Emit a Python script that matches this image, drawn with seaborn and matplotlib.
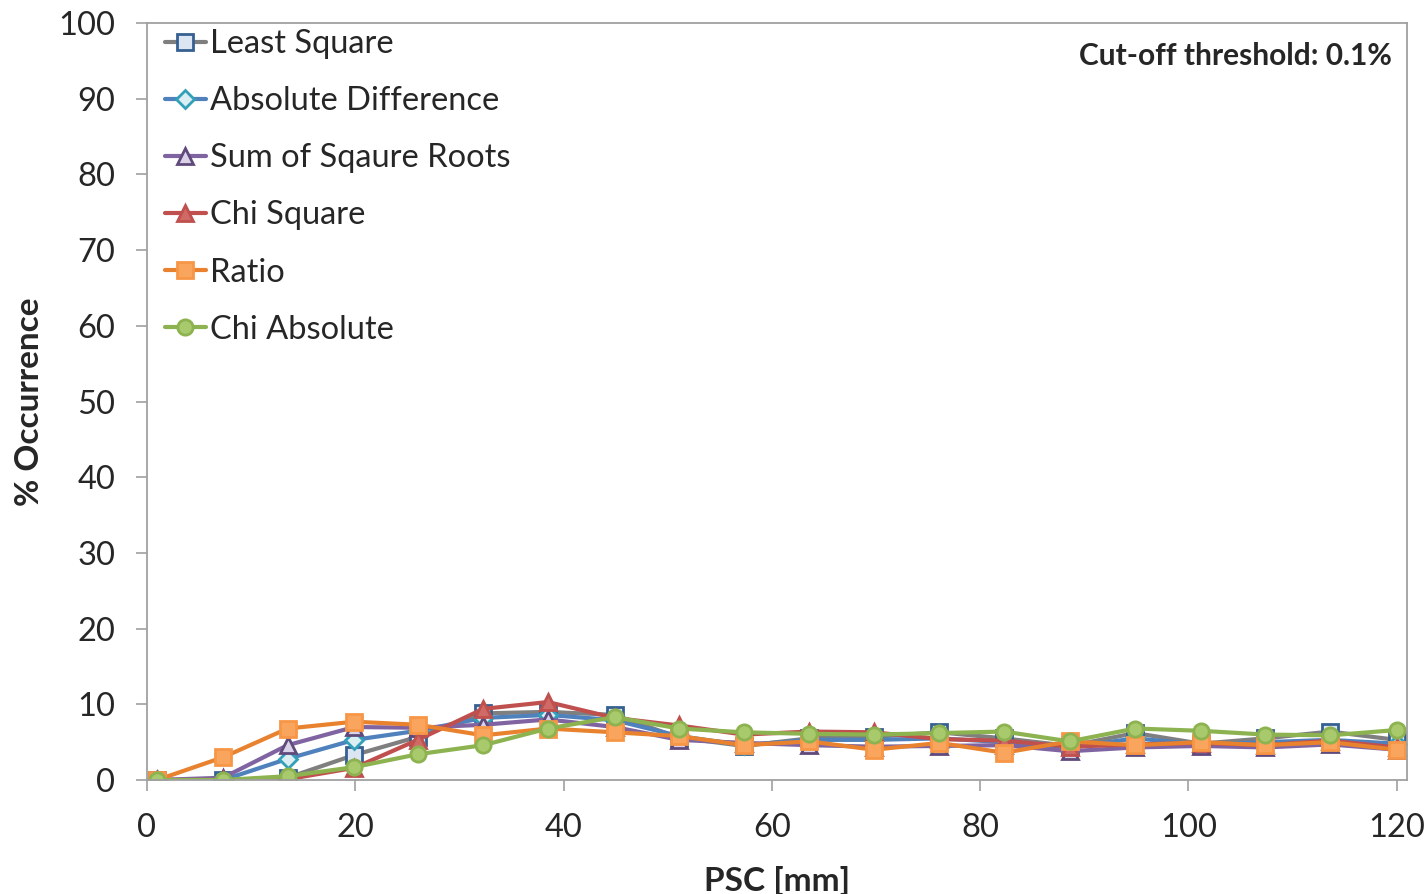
import matplotlib
matplotlib.use("Agg")
import matplotlib.pyplot as plt
import seaborn as sns
import pandas as pd

# ---- data ----
psc = [0.96, 7.3, 13.5, 19.9, 26.0, 32.3, 38.5, 44.9, 51.1, 57.3,
       63.6, 69.8, 76.1, 82.3, 88.6, 94.9, 101.2, 107.4, 113.6, 120.0]
least_square = [0, 0, 0.3, 3.3, 5.7, 8.8, 9.0, 8.6, 5.6, 4.5,
                5.5, 5.7, 6.3, 5.5, 4.5, 6.2, 4.8, 5.5, 6.4, 5.3]
abs_diff = [0, 0, 2.8, 5.3, 6.5, 8.2, 8.6, 7.9, 5.8, 4.6,
            5.3, 5.3, 5.5, 5.0, 4.3, 5.5, 4.7, 5.0, 5.3, 4.8]
sum_sqrt = [0, 0.3, 4.6, 7.0, 6.9, 7.3, 8.0, 7.0, 5.3, 4.9,
            4.6, 4.4, 4.5, 4.6, 3.8, 4.3, 4.5, 4.3, 4.7, 4.0]
chi_square = [0, 0, 0.1, 1.6, 5.3, 9.4, 10.3, 8.2, 7.2, 6.0,
              6.4, 6.3, 5.4, 5.2, 4.4, 4.7, 4.9, 4.6, 5.2, 4.3]
ratio = [0, 3.0, 6.8, 7.7, 7.3, 5.9, 6.8, 6.3, 5.8, 4.6,
         5.1, 4.0, 4.9, 3.6, 5.1, 4.6, 5.0, 4.6, 5.0, 4.0]
chi_abs = [0, 0, 0.5, 1.7, 3.4, 4.6, 6.8, 8.3, 6.8, 6.3,
           6.1, 6.0, 6.2, 6.4, 5.1, 6.8, 6.5, 6.0, 5.9, 6.6]

series_names = ["Least Square", "Absolute Difference", "Sum of Sqaure Roots",
                "Chi Square", "Ratio", "Chi Absolute"]
series_values = [least_square, abs_diff, sum_sqrt, chi_square, ratio, chi_abs]

x_ticks = [0, 20, 40, 60, 80, 100, 120]
y_ticks = [0, 10, 20, 30, 40, 50, 60, 70, 80, 90, 100]

# ---- styles ----
styles = {
    "Least Square": dict(color="#7F7F7F", marker="s", mfc="#DCE6F2", mec="#366092"),
    "Absolute Difference": dict(color="#4F81BD", marker="D", mfc="#DBEEF4", mec="#31A0B8"),
    "Sum of Sqaure Roots": dict(color="#8064A2", marker="^", mfc="#D9D2E9", mec="#604A7B"),
    "Chi Square": dict(color="#C0504D", marker="^", mfc="#D06A67", mec="#C0504D"),
    "Ratio": dict(color="#E8822E", marker="s", mfc="#F9A55E", mec="#F79646"),
    "Chi Absolute": dict(color="#8DB350", marker="o", mfc="#A9C96D", mec="#8DB350"),
}

sns.set_style("white")
plt.rcParams["font.family"] = ["Lato", "DejaVu Sans"]

fig = plt.figure(figsize=(14.28, 8.94), dpi=100)
ax = fig.add_axes([147 / 1428, 1 - 780 / 894, (1407 - 147) / 1428, (780 - 23) / 894])

for name, vals in zip(series_names, series_values):
    df = pd.DataFrame({"PSC": psc, "occ": vals})
    st = styles[name]
    sns.lineplot(data=df, x="PSC", y="occ", ax=ax, label=name,
                 color=st["color"], marker=st["marker"],
                 markerfacecolor=st["mfc"], markeredgecolor=st["mec"],
                 markersize=11 if st["marker"] != "D" else 9,
                 markeredgewidth=2, linewidth=3)

ax.set_xlim(0, 121)
ax.set_ylim(0, 100)
ax.set_xticks(x_ticks)
ax.set_yticks(y_ticks)
ax.tick_params(axis="both", labelsize=23.5, direction="out", length=8,
               width=1.2, color="#A0A0A0")
ax.tick_params(axis="x", bottom=True, pad=16)
ax.tick_params(axis="y", left=True, pad=15)
for sp in ax.spines.values():
    sp.set_color("#A0A0A0")
    sp.set_linewidth(1.3)

ax.set_xlabel("PSC [mm]", fontsize=24, fontweight="bold", labelpad=16)
ax.set_ylabel("% Occurrence", fontsize=24, fontweight="bold", labelpad=10)

ax.text(0.988, 0.956, "Cut-off threshold: 0.1%", transform=ax.transAxes,
        ha="right", va="center", fontsize=21.5, fontweight="bold")

leg = ax.legend(loc="upper left", bbox_to_anchor=(-0.004, 1.022), frameon=False,
                fontsize=23.5, handlelength=1.25, handletextpad=0.12,
                labelspacing=0.83, borderaxespad=0.3)

fig.savefig("out.png", dpi=100)
